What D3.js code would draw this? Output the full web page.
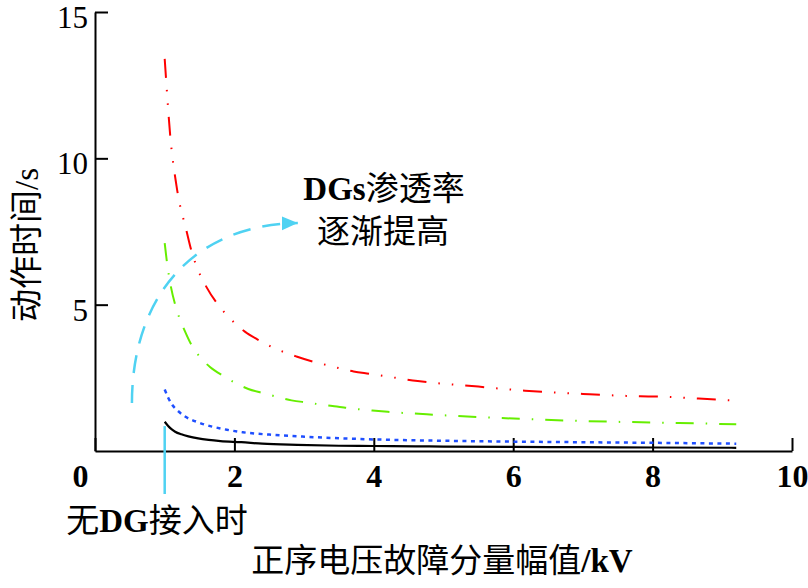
<!DOCTYPE html>
<html>
<head>
<meta charset="utf-8">
<script src="https://cdn.jsdelivr.net/npm/d3@7"></script>
<style>
body { margin: 0; background: #fff; }
text { font-family: "Liberation Serif", "Noto Sans CJK SC", serif; fill: #000; }
</style>
</head>
<body>
<div id="chart"></div>
<script>
// data
var noDgX = [1.0, 1.08, 1.15, 1.24, 1.34, 1.48, 1.63, 1.8, 2.1, 2.4, 2.9, 3.5, 4.0, 4.6, 5.0, 6.0, 7.0, 8.0, 9.2];
var noDgY = [1.0, 0.78, 0.66, 0.57, 0.5, 0.43, 0.38, 0.34, 0.3, 0.25, 0.21, 0.18, 0.17, 0.16, 0.15, 0.14, 0.13, 0.12, 0.11];

var blueX = [1.0, 1.05, 1.11, 1.18, 1.28, 1.49, 1.82, 2.12, 2.5, 3.0, 3.8, 5.0, 6.0, 7.0, 8.0, 9.2];
var blueY = [2.1, 1.82, 1.57, 1.39, 1.2, 0.97, 0.76, 0.64, 0.56, 0.49, 0.41, 0.35, 0.32, 0.3, 0.28, 0.25];

var greenX = [1.0, 1.03, 1.09, 1.15, 1.21, 1.28, 1.39, 1.51, 1.65, 1.85, 2.03, 2.2, 2.44, 2.63, 2.82, 3.07, 3.26, 3.47, 3.72, 3.91, 4.2, 4.86, 5.5, 6.1, 6.8, 7.44, 8.08, 8.73, 9.2];
var greenY = [7.1, 6.5, 5.6, 5.0, 4.55, 4.15, 3.6, 3.2, 2.87, 2.55, 2.3, 2.12, 1.96, 1.84, 1.73, 1.65, 1.58, 1.52, 1.44, 1.4, 1.34, 1.24, 1.16, 1.1, 1.04, 1.0, 0.97, 0.94, 0.91];

var redX = [1.0, 1.02, 1.08, 1.17, 1.32, 1.38, 1.44, 1.6, 1.74, 1.87, 2.15, 2.34, 2.54, 2.89, 3.12, 3.32, 3.71, 3.94, 4.63, 5.5, 6.17, 6.43, 7.0, 7.25, 7.82, 8.08, 8.66, 9.2];
var redY = [13.4, 12.7, 10.75, 9.05, 7.45, 6.87, 6.42, 5.6, 5.08, 4.7, 4.08, 3.8, 3.55, 3.23, 3.06, 2.94, 2.72, 2.64, 2.39, 2.2, 2.06, 2.02, 1.95, 1.92, 1.87, 1.86, 1.79, 1.72];

var xTicks = [0, 2, 4, 6, 8, 10];
var yTicks = [5, 10, 15];

// annotation arrow (data units): start, two control points, end
var arrowPts = [[0.53, 1.64], [0.53, 5.16], [1.36, 7.72], [2.91, 7.79]];
var markerLine = [[1, 0.85], [1, -1.47]];

var w = 808;
var h = 588;

var xScale = d3.scaleLinear().domain([0, 10]).range([95, 792]);
var yScale = d3.scaleLinear().domain([0, 15]).range([451, 12]);

var svg = d3.select("#chart")
	.append("svg")
	.attr("width", w)
	.attr("height", h);

var defs = svg.append("defs");
defs.append("marker")
	.attr("id", "head")
	.attr("markerUnits", "userSpaceOnUse")
	.attr("markerWidth", 18)
	.attr("markerHeight", 16)
	.attr("refX", 16)
	.attr("refY", 8)
	.attr("orient", "auto")
	.append("path")
	.attr("d", "M0,1 L16,8 L0,15 Z")
	.attr("fill", "#4fd2f2");

//axes
var xAxis = d3.axisBottom(xScale).tickValues(xTicks).tickSize(-13).tickSizeOuter(0);
var yAxis = d3.axisLeft(yScale).tickValues(yTicks).tickSize(-13).tickSizeOuter(0).tickPadding(7);

var gx = svg.append("g")
	.attr("transform", "translate(0," + yScale(0) + ")")
	.call(xAxis);
gx.selectAll("text")
	.attr("y", 36)
	.attr("dy", 0)
	.attr("dx", function (d) { return d === 0 ? -15 : 0; })
	.style("font-size", "32px")
	.style("font-weight", "bold");

var gy = svg.append("g")
	.attr("transform", "translate(" + xScale(0) + ",0)")
	.call(yAxis);
gy.selectAll("text")
	.attr("dy", "0.5em")
	.style("font-size", "31px");

svg.selectAll(".domain, .tick line")
	.attr("stroke", "#000")
	.attr("stroke-width", 2);
svg.selectAll(".tick text").attr("fill", "#000").style("font-family", "Liberation Serif");

//curves
var series = [
	{ x: redX, y: redY, color: "#ff0000", dash: "19,12,1.5,12,1.5,12", width: 2 },
	{ x: greenX, y: greenY, color: "#66ee00", dash: "18,12,1.5,12", width: 2 },
	{ x: blueX, y: blueY, color: "#1f4fff", dash: "4,4.5", width: 2.5 },
	{ x: noDgX, y: noDgY, color: "#000", dash: null, width: 2.2 }
];

var line = d3.line()
	.x(function (d) { return xScale(d[0]); })
	.y(function (d) { return yScale(d[1]); })
	.curve(d3.curveMonotoneX);

svg.selectAll("path.curve")
	.data(series)
	.enter()
	.append("path")
	.attr("class", "curve")
	.attr("d", function (d) { return line(d.x.map(function (v, i) { return [v, d.y[i]]; })); })
	.attr("fill", "none")
	.attr("stroke", function (d) { return d.color; })
	.attr("stroke-width", function (d) { return d.width; })
	.attr("stroke-dasharray", function (d) { return d.dash; });

//cyan annotation arrow
var p = arrowPts.map(function (d) { return [xScale(d[0]), yScale(d[1])]; });
var path = d3.path();
path.moveTo(p[0][0], p[0][1]);
path.bezierCurveTo(p[1][0], p[1][1], p[2][0], p[2][1], p[3][0], p[3][1]);
svg.append("path")
	.attr("d", path.toString())
	.attr("fill", "none")
	.attr("stroke", "#4fd2f2")
	.attr("stroke-width", 2.5)
	.attr("stroke-dasharray", "18,12")
	.attr("marker-end", "url(#head)");

svg.append("line")
	.attr("x1", xScale(markerLine[0][0]))
	.attr("y1", yScale(markerLine[0][1]))
	.attr("x2", xScale(markerLine[1][0]))
	.attr("y2", yScale(markerLine[1][1]))
	.attr("stroke", "#4fd2f2")
	.attr("stroke-width", 2.5);

//labels
var t1 = svg.append("text").attr("x", 384).attr("y", 200).attr("text-anchor", "middle").style("font-size", "33px");
t1.append("tspan").style("font-weight", "bold").text("DGs");
t1.append("tspan").text("渗透率");

svg.append("text").attr("x", 383).attr("y", 243).attr("text-anchor", "middle").style("font-size", "33px").text("逐渐提高");

var t2 = svg.append("text").attr("x", 157).attr("y", 532).attr("text-anchor", "middle").style("font-size", "33px");
t2.append("tspan").text("无");
t2.append("tspan").style("font-weight", "bold").text("DG");
t2.append("tspan").text("接入时");

var t3 = svg.append("text").attr("x", 442).attr("y", 572).attr("text-anchor", "middle").style("font-size", "33px");
t3.append("tspan").text("正序电压故障分量幅值");
t3.append("tspan").style("font-weight", "bold").text("/kV");

svg.append("text")
	.attr("transform", "rotate(-90)")
	.attr("x", -245)
	.attr("y", 38)
	.attr("text-anchor", "middle")
	.style("font-size", "33px")
	.text("动作时间/s");
</script>
</body>
</html>
